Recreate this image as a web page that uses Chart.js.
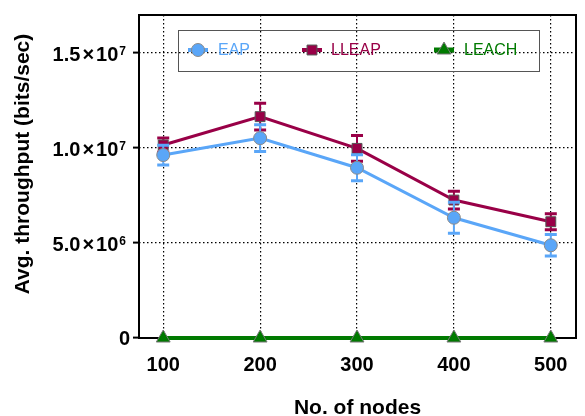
<!DOCTYPE html>
<html>
<head>
<meta charset="utf-8">
<script src="https://cdn.jsdelivr.net/npm/chart.js@4.4.1/dist/chart.umd.min.js"></script>
<style>
  html, body { margin: 0; padding: 0; background: #fff; }
  #wrap { width: 585px; height: 416px; }
</style>
</head>
<body>
<div id="wrap"><canvas id="throughputChart" width="585" height="416"></canvas></div>
<script>
/* 노드 수별 평균 처리량 데이터 */
const nodes = [100, 200, 300, 400, 500];
const eap = [9.63e6, 10.52e6, 8.96e6, 6.33e6, 4.88e6];
const eapErr = [0.52e6, 0.70e6, 0.68e6, 0.82e6, 0.57e6];
const lleap = [10.16e6, 11.65e6, 9.98e6, 7.26e6, 6.12e6];
const lleapErr = [0.37e6, 0.70e6, 0.68e6, 0.47e6, 0.42e6];
const leach = [0, 0, 0, 0, 0];
const yTicks = [0, 5e6, 1e7, 1.5e7];

const toPoints = (vals) => vals.map((v, i) => ({ x: nodes[i], y: v }));

const FONT = 'Liberation Sans, Arial, sans-serif';
const tickFont = { family: FONT, size: 20, weight: 'bold' };

/* 1.5e7 -> ['1.5', '7'] */
function sciParts(v) {
    const exp = Math.floor(Math.log10(v));
    return [(v / Math.pow(10, exp)).toFixed(1), String(exp)];
}

/* 에러바 - 각 데이터셋 그리기 전에 */
const errorBars = {
    id: 'errorBars',
    beforeDatasetDraw(chart, args) {
        const ds = chart.data.datasets[args.index];
        if (!ds.errors) return;
        const ctx = chart.ctx;
        const yScale = chart.scales.y;
        ctx.save();
        ctx.strokeStyle = ds.borderColor;
        args.meta.data.forEach((pt, i) => {
            const v = ds.data[i].y;
            const e = ds.errors[i];
            const top = yScale.getPixelForValue(v + e);
            const bot = yScale.getPixelForValue(v - e);
            ctx.lineWidth = 2;
            ctx.beginPath();
            ctx.moveTo(pt.x, top);
            ctx.lineTo(pt.x, bot);
            ctx.stroke();
            ctx.lineWidth = 3;
            ctx.beginPath();
            ctx.moveTo(pt.x - 6, top); ctx.lineTo(pt.x + 6, top);
            ctx.moveTo(pt.x - 6, bot); ctx.lineTo(pt.x + 6, bot);
            ctx.stroke();
        });
        ctx.restore();
    }
};

/* 프레임, y축 라벨(지수 표기), y축 제목 */
const frameAndAxis = {
    id: 'frameAndAxis',
    beforeDatasetsDraw(chart) {
        const ctx = chart.ctx;
        const a = chart.chartArea;
        const yScale = chart.scales.y;
        ctx.save();
        ctx.strokeStyle = '#000';
        ctx.lineWidth = 2;
        ctx.strokeRect(a.left, a.top, a.right - a.left, a.bottom - a.top);

        ctx.fillStyle = '#000';
        ctx.textAlign = 'right';
        ctx.textBaseline = 'alphabetic';
        yTicks.forEach(v => {
            const py = yScale.getPixelForValue(v);
            ctx.font = 'bold 20px ' + FONT;
            if (v === 0) {
                ctx.fillText('0', 130, py + 7);
                return;
            }
            const [mant, exp] = sciParts(v);
            let x = 126;
            ctx.font = 'bold 12px ' + FONT;
            ctx.fillText(exp, x, py + 2);
            x -= ctx.measureText(exp).width + 1;
            ctx.font = 'bold 20px ' + FONT;
            ctx.fillText('10', x, py + 8);
            x -= ctx.measureText('10').width + 2;
            ctx.fillText('\u00d7', x, py + 8);
            x -= ctx.measureText('\u00d7').width + 2;
            ctx.fillText(mant, x, py + 8);
        });

        ctx.translate(23, 164);
        ctx.rotate(-Math.PI / 2);
        ctx.textAlign = 'center';
        ctx.textBaseline = 'middle';
        ctx.font = 'bold 21px ' + FONT;
        ctx.fillText('Avg. throughput (bits/sec)', 0, 0);
        ctx.restore();
    }
};

/* 범례 박스 (플롯 안쪽, 투명) */
const legendBox = {
    id: 'legendBox',
    afterDraw(chart) {
        const ctx = chart.ctx;
        ctx.save();
        ctx.strokeStyle = '#555';
        ctx.lineWidth = 1;
        ctx.strokeRect(178.5, 30.5, 361, 41);

        const items = [
            { x: 198, tx: 218 },
            { x: 312, tx: 331 },
            { x: 444, tx: 464 }
        ];
        const cy = 50;
        ctx.font = '16px ' + FONT;
        ctx.textBaseline = 'middle';
        chart.data.datasets.forEach((ds, i) => {
            const it = items[i];
            ctx.strokeStyle = ds.borderColor;
            ctx.lineWidth = i === 2 ? 5 : 4;
            ctx.beginPath();
            ctx.moveTo(it.x - 10, cy);
            ctx.lineTo(it.x + 10, cy);
            ctx.stroke();
            ctx.fillStyle = ds.pointBackgroundColor;
            ctx.strokeStyle = ds.pointBorderColor;
            ctx.lineWidth = ds.pointBorderWidth;
            Chart.helpers.drawPoint(ctx, {
                pointStyle: ds.pointStyle,
                radius: ds.pointRadius,
                rotation: 0,
                borderWidth: ds.pointBorderWidth
            }, it.x, cy);
            ctx.fillStyle = ds.borderColor;
            ctx.fillText(ds.label, it.tx, cy + 1);
        });
        ctx.restore();
    }
};

const ctx = document.getElementById('throughputChart').getContext('2d');

new Chart(ctx, {
    type: 'line',
    data: {
        datasets: [{
            label: 'EAP',
            data: toPoints(eap),
            errors: eapErr,
            clip: false,
            borderColor: '#5aa6f8',
            borderWidth: 3,
            pointStyle: 'circle',
            pointRadius: 6.5,
            pointBackgroundColor: '#5aa6f8',
            pointBorderColor: '#8a8a8a',
            pointBorderWidth: 1
        }, {
            label: 'LLEAP',
            data: toPoints(lleap),
            errors: lleapErr,
            clip: false,
            borderColor: '#990047',
            borderWidth: 3,
            pointStyle: 'rect',
            pointRadius: 7,
            pointBackgroundColor: '#990047',
            pointBorderColor: '#555',
            pointBorderWidth: 1
        }, {
            label: 'LEACH',
            data: toPoints(leach),
            clip: false,
            borderColor: '#007a00',
            borderWidth: 4,
            pointStyle: 'triangle',
            pointRadius: 8,
            pointBackgroundColor: '#007a00',
            pointBorderColor: '#777',
            pointBorderWidth: 1
        }]
    },
    options: {
        responsive: false,
        animation: false,
        layout: { padding: { top: 15, right: 2, left: 0, bottom: 0 } },
        plugins: {
            legend: { display: false },
            tooltip: { enabled: false }
        },
        scales: {
            x: {
                type: 'linear',
                min: 75,
                max: 526,
                afterBuildTicks: (scale) => { scale.ticks = nodes.map(v => ({ value: v })); },
                afterFit: (scale) => { scale.height = 78; },
                ticks: {
                    color: '#000',
                    font: tickFont,
                    padding: 15,
                    maxRotation: 0,
                    callback: (v) => String(v)
                },
                grid: {
                    color: '#000',
                    lineWidth: 1.2,
                    drawTicks: false
                },
                border: { display: false, dash: [1.5, 2.5] },
                title: {
                    display: true,
                    text: 'No. of nodes',
                    color: '#000',
                    font: { family: FONT, size: 21, weight: 'bold', lineHeight: 1 },
                    padding: { top: 0, bottom: -3 }
                }
            },
            y: {
                min: 0,
                max: 1.7e7,
                afterBuildTicks: (scale) => { scale.ticks = yTicks.map(v => ({ value: v })); },
                afterFit: (scale) => { scale.width = 139; },
                ticks: { display: false },
                grid: {
                    color: '#000',
                    lineWidth: 1.2,
                    tickLength: 6,
                    tickColor: '#000',
                    tickWidth: 2
                },
                border: { display: false, dash: [1.5, 2.5] }
            }
        }
    },
    plugins: [frameAndAxis, errorBars, legendBox]
});
</script>
</body>
</html>
